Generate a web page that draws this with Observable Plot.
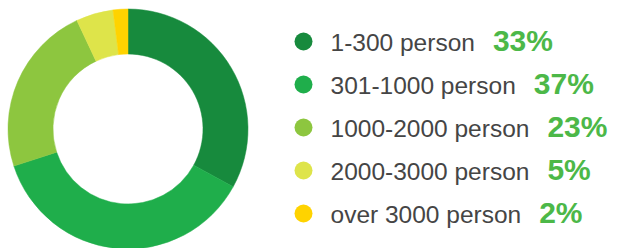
<!DOCTYPE html>
<html>
<head>
<meta charset="utf-8">
<script src="https://cdn.jsdelivr.net/npm/d3@7"></script>
<script src="https://cdn.jsdelivr.net/npm/@observablehq/plot@0.6"></script>
<style>
  html, body { margin: 0; padding: 0; background: #ffffff; }
  #chart { width: 617px; height: 248px; }
</style>
</head>
<body>
<div id="chart"></div>
<script>
// ---- data ----
const categories = ["1-300 person", "301-1000 person", "1000-2000 person", "2000-3000 person", "over 3000 person"];
const shares = [33, 37, 23, 5, 2];
const percentLabels = ["33%", "37%", "23%", "5%", "2%"];
const colors = ["#178a3d", "#1fae4b", "#8dc63f", "#dee44a", "#ffd300"];

const data = categories.map((c, i) => ({label: c, value: shares[i], pct: percentLabels[i]}));

// layout
const W = 617, H = 248;
const cx = 128, cy = 129, rOuter = 120, rInner = 75;
const labelX = 330, dotX = 303;
const labelFont = "24.5px 'Liberation Sans', Arial, sans-serif";

const ctx = document.createElement("canvas").getContext("2d");
ctx.font = labelFont;
const pctX = data.map(d => labelX + ctx.measureText(d.label).width + 18);
data.forEach((d, i) => d.px = pctX[i]);

// donut drawn through Plot's color scale
function donut(index, scales) {
  const g = d3.create("svg:g").attr("transform", `translate(${cx},${cy})`);
  const pie = d3.pie().sort(null).value(d => d.value);
  const arc = d3.arc().innerRadius(rInner).outerRadius(rOuter);
  g.selectAll("path")
    .data(pie(data))
    .join("path")
    .attr("d", arc)
    .attr("fill", d => scales.color(d.data.label))
    .attr("stroke", d => scales.color(d.data.label))
    .attr("stroke-width", 0.5);
  return g.node();
}

const chart = Plot.plot({
  width: W,
  height: H,
  margin: 0,
  x: {type: "identity", axis: null},
  y: {type: "point", domain: categories, range: [40, 214], padding: 0, axis: null},
  color: {domain: categories, range: colors},
  style: {background: "transparent"},
  marks: [
    donut,
    Plot.dot(data, {x: () => dotX, y: "label", r: 9, fill: "label", stroke: null}),
    Plot.text(data, {x: () => labelX, y: "label", text: "label", textAnchor: "start", dy: 2,
      fill: "#454545", fontSize: 24.5, fontFamily: "'Liberation Sans', Arial, sans-serif"}),
    Plot.text(data, {x: "px", y: "label", text: "pct", textAnchor: "start", dy: 0,
      fill: "#4cb848", fontSize: 30, fontWeight: "bold", fontFamily: "'Liberation Sans', Arial, sans-serif"})
  ]
});
document.getElementById("chart").appendChild(chart);
</script>
</body>
</html>
